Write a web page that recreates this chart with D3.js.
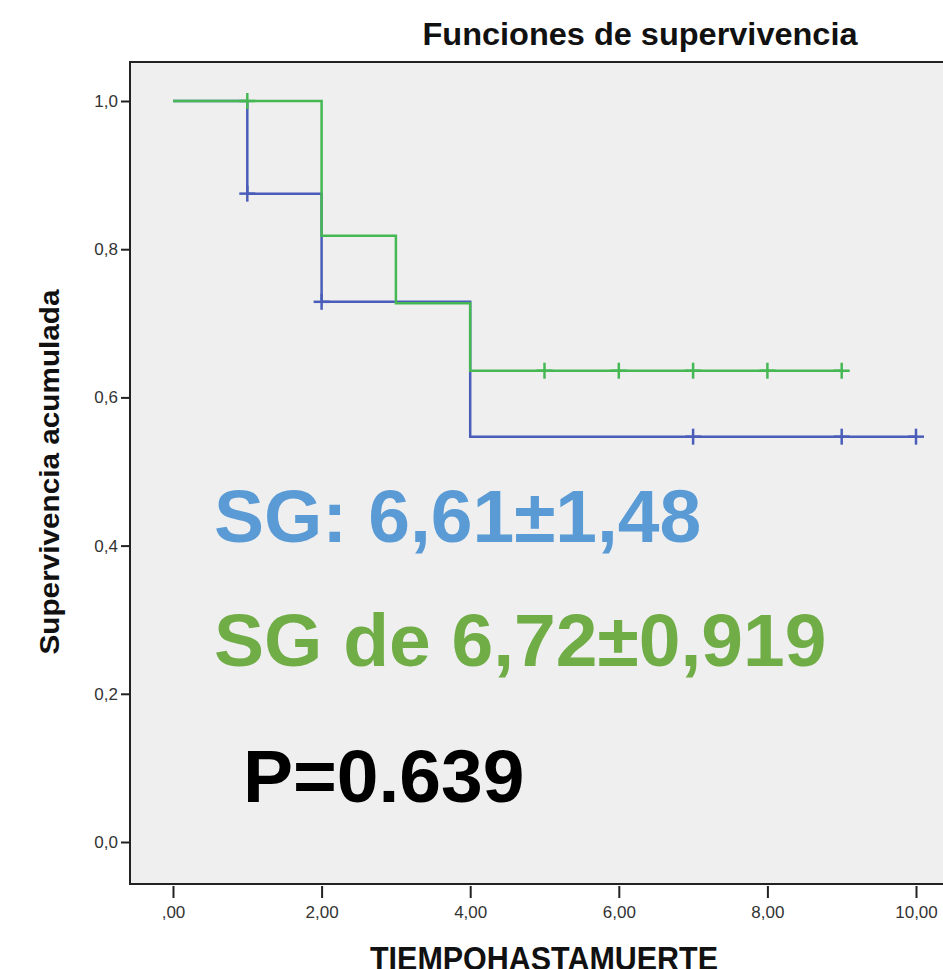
<!DOCTYPE html>
<html>
<head>
  <script src="https://d3js.org/d3.v7.min.js"></script>
  <style>
    body { margin: 0; background: #ffffff; overflow: hidden; }
    svg text { font-family: "Liberation Sans", Arial, sans-serif; }
  </style>
  <title>Funciones de supervivencia</title>
</head>
<body>
  <script>
    // Datos (curvas de Kaplan-Meier)
    const blueTimes = [0, 1, 2, 4, 10];
    const blueSurv = [1.0, 0.875, 0.729, 0.547, 0.547];
    const blueCensorTimes = [1, 2, 7, 9, 10];
    const blueCensorSurv = [0.875, 0.729, 0.547, 0.547, 0.547];

    const greenTimes = [0, 2, 3, 4, 9];
    const greenSurv = [1.0, 0.818, 0.727, 0.636, 0.636];
    const greenCensorTimes = [1, 5, 6, 7, 8, 9];
    const greenCensorSurv = [1.0, 0.636, 0.636, 0.636, 0.636, 0.636];

    const xTicks = [0, 2, 4, 6, 8, 10];
    const yTicks = [0, 0.2, 0.4, 0.6, 0.8, 1.0];

    const annotations = ["SG: 6,61\u00b11,48", "SG de 6,72\u00b10,919", "P=0.639"];

    const W = 943, H = 969;

    const svg = d3.select("body").append("svg")
      .attr("width", W)
      .attr("height", H);

    // scales
    const x = d3.scaleLinear().domain([0, 10]).range([173, 916]);
    const y = d3.scaleLinear().domain([0, 1]).range([842, 101]);

    // plot area
    svg.append("rect")
      .attr("x", 130).attr("y", 62)
      .attr("width", 900).attr("height", 822)
      .attr("fill", "#efefef")
      .attr("stroke", "#222")
      .attr("stroke-width", 2);

    // title
    svg.append("text")
      .attr("x", 640).attr("y", 45)
      .attr("text-anchor", "middle")
      .attr("font-size", 31)
      .attr("font-weight", "bold")
      .attr("fill", "#111")
      .attr("textLength", 435)
      .attr("lengthAdjust", "spacingAndGlyphs")
      .text("Funciones de supervivencia");

    // y axis
    const yAxis = svg.append("g")
      .attr("transform", "translate(130,0)")
      .call(d3.axisLeft(y).tickValues(yTicks).tickSize(9).tickPadding(3)
        .tickFormat(d => d.toFixed(1).replace(".", ",")));
    yAxis.select(".domain").remove();
    yAxis.selectAll("line").attr("stroke", "#222").attr("stroke-width", 2);
    yAxis.selectAll("text").attr("font-size", 17).attr("fill", "#333")
      .style("font-family", "Liberation Sans, Arial, sans-serif");

    // x axis (ticks detached from the frame)
    const xAxis = svg.append("g")
      .attr("transform", "translate(0,886)")
      .call(d3.axisBottom(x).tickValues(xTicks).tickSize(12).tickPadding(8)
        .tickFormat(d => d === 0 ? ",00" : d.toFixed(2).replace(".", ",")));
    xAxis.select(".domain").remove();
    xAxis.selectAll("line").attr("stroke", "#222").attr("stroke-width", 2);
    xAxis.selectAll("text").attr("font-size", 17).attr("fill", "#333")
      .style("font-family", "Liberation Sans, Arial, sans-serif");

    // axis titles
    svg.append("text")
      .attr("x", 544).attr("y", 970)
      .attr("text-anchor", "middle")
      .attr("font-size", 34)
      .attr("font-weight", "bold")
      .attr("fill", "#111")
      .attr("textLength", 348)
      .attr("lengthAdjust", "spacingAndGlyphs")
      .text("TIEMPOHASTAMUERTE");

    svg.append("text")
      .attr("transform", "translate(59,472) rotate(-90)")
      .attr("text-anchor", "middle")
      .attr("font-size", 27)
      .attr("font-weight", "bold")
      .attr("fill", "#111")
      .attr("textLength", 365)
      .attr("lengthAdjust", "spacingAndGlyphs")
      .text("Supervivencia acumulada");

    // survival curves
    const line = d3.line()
      .x(d => x(d[0]))
      .y(d => y(d[1]))
      .curve(d3.curveStepAfter);

    const series = [
      { times: blueTimes, surv: blueSurv, ct: blueCensorTimes, cs: blueCensorSurv, color: "#4a5db8" },
      { times: greenTimes, surv: greenSurv, ct: greenCensorTimes, cs: greenCensorSurv, color: "#46b853" }
    ];

    series.forEach(s => {
      svg.append("path")
        .datum(d3.zip(s.times, s.surv))
        .attr("d", line)
        .attr("fill", "none")
        .attr("stroke", s.color)
        .attr("stroke-width", 2.5);

      const marks = svg.append("g");
      d3.zip(s.ct, s.cs).forEach(p => {
        const cx = x(p[0]), cy = y(p[1]);
        marks.append("line")
          .attr("x1", cx - 8).attr("x2", cx + 8)
          .attr("y1", cy).attr("y2", cy)
          .attr("stroke", s.color).attr("stroke-width", 2.5);
        marks.append("line")
          .attr("x1", cx).attr("x2", cx)
          .attr("y1", cy - 8).attr("y2", cy + 8)
          .attr("stroke", s.color).attr("stroke-width", 2.5);
      });
    });

    // annotations
    svg.append("text")
      .attr("x", 214).attr("y", 542)
      .attr("font-size", 75).attr("font-weight", "bold")
      .attr("fill", "#5b9bd5")
      .text(annotations[0]);

    svg.append("text")
      .attr("x", 214).attr("y", 666)
      .attr("font-size", 75).attr("font-weight", "bold")
      .attr("fill", "#70ad47")
      .text(annotations[1]);

    svg.append("text")
      .attr("x", 243).attr("y", 802)
      .attr("font-size", 75).attr("font-weight", "bold")
      .attr("fill", "#000")
      .text(annotations[2]);
  </script>
</body>
</html>
